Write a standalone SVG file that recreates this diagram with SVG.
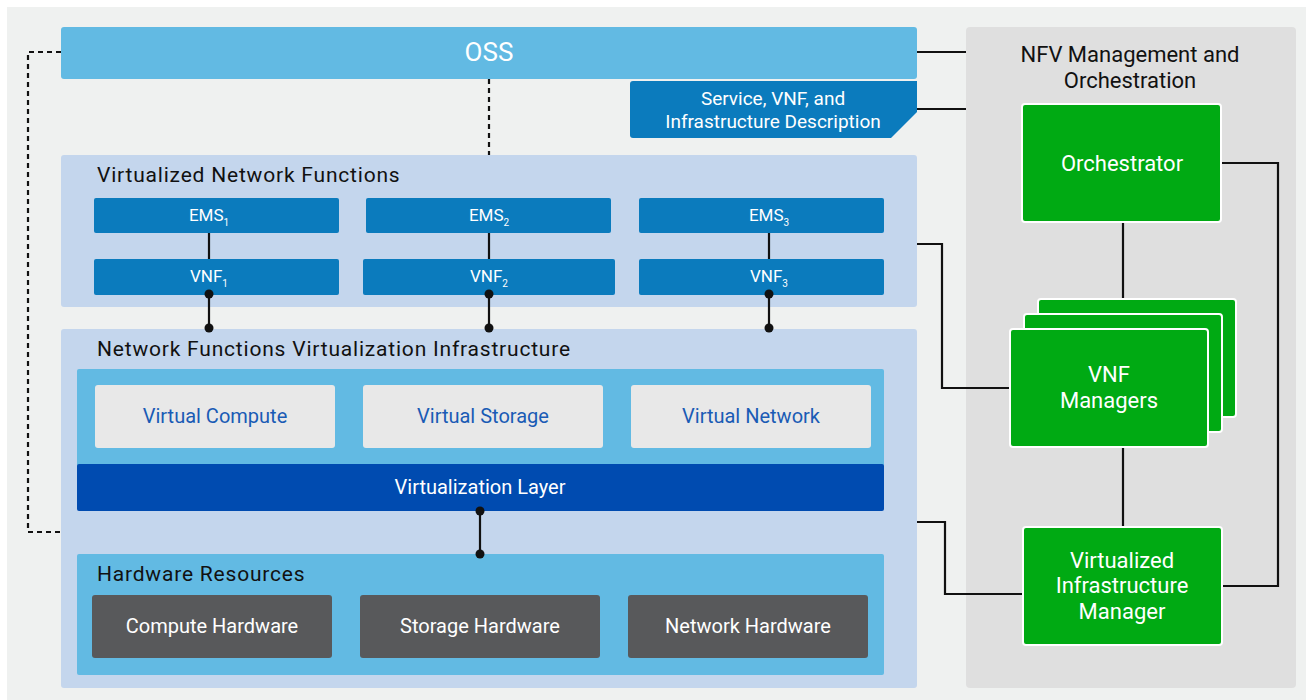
<svg xmlns="http://www.w3.org/2000/svg" width="1306" height="700" viewBox="0 0 1306 700">
<style>
text{font-family:Roboto,"Liberation Sans",sans-serif}
.w{fill:#fff;text-anchor:middle}
.d{fill:#111}
.title{font-size:21px;fill:#111;letter-spacing:0.8px}
.panel{fill:#c4d6ed}
.mid{fill:#62bae3}
.dblue{fill:#0b7bbd}
.virt{fill:#e8e8e8}
.vt{fill:#1a5bb5;text-anchor:middle;font-size:20px}
.hw{fill:#58595b}
.hwt{font-size:20px}
.green{fill:#00aa13;stroke:#fff;stroke-width:2}
.gt{font-size:22px}
.ems{font-size:17px}
.ln{stroke:#111;stroke-width:2.2;fill:none}
.dot{stroke:#111;stroke-width:2.2;fill:none;stroke-dasharray:5 4}
.sub{font-size:10px}
</style>
<rect x="7" y="7" width="1299" height="693" fill="#eff1f0"/>
<g id="mano">
<rect x="966" y="27" width="330" height="661" rx="4" fill="#dfdfdf"/>
<text x="1130" y="62" class="d" font-size="22" text-anchor="middle">NFV Management and</text>
<text x="1130" y="88" class="d" font-size="22" text-anchor="middle">Orchestration</text>
</g>
<g id="oss">
<rect x="61" y="27" width="856" height="52" rx="3" class="mid"/>
<text x="489" y="61" class="w" font-size="26">OSS</text>
</g>
<g id="description">
<path d="M633 81H917V112L891 138H633Q630 138 630 135V84Q630 81 633 81Z" class="dblue"/>
<text x="773" y="105" class="w" font-size="19">Service, VNF, and</text>
<text x="773" y="128" class="w" font-size="19">Infrastructure Description</text>
</g>
<g id="vnf-panel">
<rect x="61" y="155" width="856" height="152" rx="3" class="panel"/>
<text x="97" y="182" class="title">Virtualized Network Functions</text>
</g>
<g id="ems1"><rect x="94" y="198" width="245" height="35" rx="2" class="dblue"/><text x="209" y="221" class="w ems">EMS<tspan class="sub" dy="5">1</tspan></text></g>
<g id="ems2"><rect x="366" y="198" width="245" height="35" rx="2" class="dblue"/><text x="489" y="221" class="w ems">EMS<tspan class="sub" dy="5">2</tspan></text></g>
<g id="ems3"><rect x="639" y="198" width="245" height="35" rx="2" class="dblue"/><text x="769" y="221" class="w ems">EMS<tspan class="sub" dy="5">3</tspan></text></g>
<g id="vnf1"><rect x="94" y="259" width="245" height="36" rx="2" class="dblue"/><text x="209" y="282" class="w ems">VNF<tspan class="sub" dy="5">1</tspan></text></g>
<g id="vnf2"><rect x="363" y="259" width="252" height="36" rx="2" class="dblue"/><text x="489" y="282" class="w ems">VNF<tspan class="sub" dy="5">2</tspan></text></g>
<g id="vnf3"><rect x="639" y="259" width="245" height="36" rx="2" class="dblue"/><text x="769" y="282" class="w ems">VNF<tspan class="sub" dy="5">3</tspan></text></g>
<g id="nfvi">
<rect x="61" y="329" width="856" height="359" rx="3" class="panel"/>
<text x="97" y="356" class="title">Network Functions Virtualization Infrastructure</text>
<rect x="77" y="369" width="807" height="100" rx="2" class="mid"/>
</g>
<g id="virtual-compute"><rect x="95" y="385" width="240" height="63" rx="3" class="virt"/><text x="215" y="423" class="vt">Virtual Compute</text></g>
<g id="virtual-storage"><rect x="363" y="385" width="240" height="63" rx="3" class="virt"/><text x="483" y="423" class="vt">Virtual Storage</text></g>
<g id="virtual-network"><rect x="631" y="385" width="240" height="63" rx="3" class="virt"/><text x="751" y="423" class="vt">Virtual Network</text></g>
<g id="virtualization-layer"><rect x="77" y="464" width="807" height="47" rx="2" fill="#004bb0"/><text x="480" y="494" class="w" font-size="20">Virtualization Layer</text></g>
<g id="hardware">
<rect x="77" y="554" width="807" height="121" rx="2" class="mid"/>
<text x="97" y="581" class="title">Hardware Resources</text>
</g>
<g id="compute-hw"><rect x="92" y="595" width="240" height="63" rx="3" class="hw"/><text x="212" y="633" class="w hwt">Compute Hardware</text></g>
<g id="storage-hw"><rect x="360" y="595" width="240" height="63" rx="3" class="hw"/><text x="480" y="633" class="w hwt">Storage Hardware</text></g>
<g id="network-hw"><rect x="628" y="595" width="240" height="63" rx="3" class="hw"/><text x="748" y="633" class="w hwt">Network Hardware</text></g>
<g id="orchestrator"><rect x="1022" y="104" width="199" height="118" rx="3" class="green"/><text x="1122" y="171" class="w gt">Orchestrator</text></g>
<g id="vnf-managers">
<rect x="1038" y="299" width="198" height="118" rx="3" class="green"/>
<rect x="1024" y="314" width="198" height="118" rx="3" class="green"/>
<rect x="1010" y="329" width="198" height="118" rx="3" class="green"/>
<text x="1109" y="382" class="w gt">VNF</text>
<text x="1109" y="408" class="w gt">Managers</text>
</g>
<g id="vim"><rect x="1023" y="527" width="199" height="118" rx="3" class="green"/>
<text x="1122" y="568" class="w gt">Virtualized</text>
<text x="1122" y="593" class="w gt">Infrastructure</text>
<text x="1122" y="619" class="w gt">Manager</text>
</g>
<g id="connectors">
<path class="ln" d="M917 52H966"/>
<path class="ln" d="M917 109H966"/>
<path class="ln" d="M1123 223V298"/>
<path class="ln" d="M1123 448V526"/>
<path class="ln" d="M1222 163H1278V586H1223"/>
<path class="ln" d="M917 244H942V388H1009"/>
<path class="ln" d="M917 522H945V594H1022"/>
<path class="dot" d="M61 52H28V532H61"/>
<path class="dot" d="M489 79V155"/>
<path class="ln" d="M209 233V259M489 233V259M769 233V259"/>
<path class="ln" d="M209 294V328M489 294V328M769 294V328"/>
<path class="ln" d="M480 511V554"/>
<g fill="#111">
<circle cx="209" cy="294" r="4.5"/><circle cx="209" cy="328" r="4.5"/>
<circle cx="489" cy="294" r="4.5"/><circle cx="489" cy="328" r="4.5"/>
<circle cx="769" cy="294" r="4.5"/><circle cx="769" cy="328" r="4.5"/>
<circle cx="480" cy="511" r="4.5"/><circle cx="480" cy="554" r="4.5"/>
</g>
</g>
</svg>
